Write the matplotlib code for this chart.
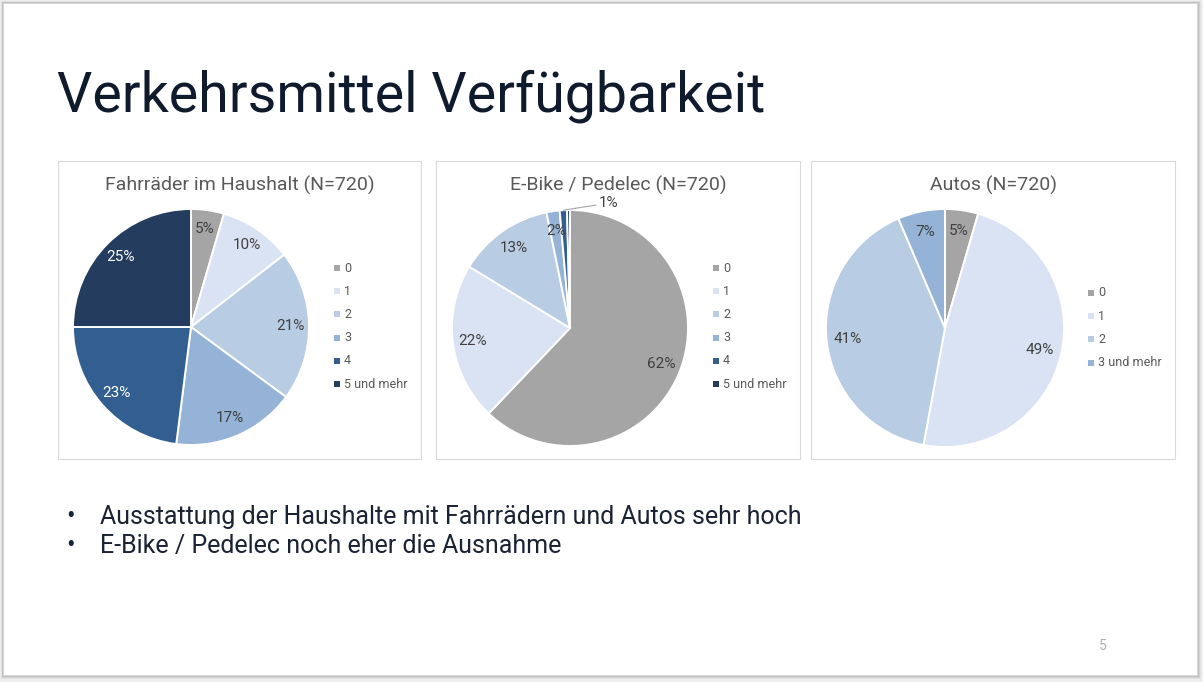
import matplotlib
matplotlib.use("Agg")
import matplotlib.pyplot as plt
from matplotlib.patches import Rectangle
import numpy as np

plt.rcParams['font.family'] = ['Roboto', 'DejaVu Sans']

# Daten (Anteile in %, aus dem Bild geschaetzt)
fahrrad_cats = ['0', '1', '2', '3', '4', '5 und mehr']
fahrrad_vals = [4.5, 10.0, 20.6, 16.9, 23.0, 25.0]
fahrrad_lbls = ['5%', '10%', '21%', '17%', '23%', '25%']

ebike_cats = ['0', '1', '2', '3', '4', '5 und mehr']
ebike_vals = [62.1, 21.6, 13.1, 1.8, 1.0, 0.4]
ebike_lbls = ['62%', '22%', '13%', '2%', '1%', '']

auto_cats = ['0', '1', '2', '3 und mehr']
auto_vals = [4.5, 48.4, 40.7, 6.4]
auto_lbls = ['5%', '49%', '41%', '7%']

farben = ['#a5a5a5', '#dae3f3', '#b8cce4', '#95b3d7', '#335e90', '#243c5e']
weiss_text = ['#335e90', '#243c5e']

W, H = 1203, 682
fig = plt.figure(figsize=(W / 100, H / 100), dpi=100, facecolor='#eeeeee')

# Hintergrund / Folie in Pixelkoordinaten
bg = fig.add_axes([0, 0, 1, 1])
bg.set_xlim(0, W)
bg.set_ylim(H, 0)
bg.axis('off')
for i, a in enumerate([0.05, 0.06, 0.08, 0.10]):
    d = 4 - i
    bg.add_patch(Rectangle((3 - d / 2, 3 - d / 2), 1194 + d * 1.5, 672 + d * 1.5,
                           facecolor='black', alpha=a, edgecolor='none'))
bg.add_patch(Rectangle((3, 3), 1194, 672, facecolor='white', edgecolor='#d8d8d8', lw=0.6))

bg.text(57, 96, 'Verkehrsmittel Verfügbarkeit', fontsize=40, color='#0f1b2d',
        va='center', ha='left')

bg.text(70, 517, '•', fontsize=18, color='#1a2233', va='center', ha='center')
bg.text(70, 546, '•', fontsize=18, color='#1a2233', va='center', ha='center')
bg.text(100, 517, 'Ausstattung der Haushalte mit Fahrrädern und Autos sehr hoch',
        fontsize=18, color='#1a2233', va='center', ha='left')
bg.text(100, 546, 'E-Bike / Pedelec noch eher die Ausnahme',
        fontsize=18, color='#1a2233', va='center', ha='left')
bg.text(1103, 646, '5', fontsize=10, color='#b0b0b0', va='center', ha='center')


def chart(box, titel, cats, vals, lbls, center, r, leg_x, leg_y0, dist):
    x0, y0, x1, y1 = box
    bg.add_patch(Rectangle((x0, y0), x1 - x0, y1 - y0, facecolor='white',
                           edgecolor='#d9d9d9', lw=0.8))
    bg.text((x0 + x1) / 2, 185, titel, fontsize=14, color='#595959',
            ha='center', va='center')
    cx, cy = center
    ax = fig.add_axes([(cx - r) / W, 1 - (cy + r) / H, 2 * r / W, 2 * r / H])
    wedges, _ = ax.pie(vals, colors=farben[:len(vals)], startangle=90,
                       counterclock=False, radius=1,
                       wedgeprops=dict(edgecolor='white', linewidth=1.4))
    ax.set_xlim(-1, 1)
    ax.set_ylim(-1, 1)
    ax.set_aspect('equal')
    ax.axis('off')
    for w, lb in zip(wedges, lbls):
        if not lb:
            continue
        mid = np.deg2rad((w.theta1 + w.theta2) / 2)
        fc = w.get_facecolor()
        col = 'white' if matplotlib.colors.to_hex(fc) in weiss_text else '#404040'
        if w.theta2 - w.theta1 < 5:
            # kleines Segment: Beschriftung aussen mit Fuehrungslinie
            px, py = np.cos(mid), np.sin(mid)
            ax.annotate(lb, xy=(px, py), xytext=(px + 0.30, py + 0.06),
                        fontsize=11, color='#404040', ha='left', va='center',
                        arrowprops=dict(arrowstyle='-', color='#a6a6a6', lw=0.8,
                                        shrinkA=0, shrinkB=0),
                        annotation_clip=False)
            continue
        ax.text(dist * np.cos(mid), dist * np.sin(mid), lb, fontsize=11,
                color=col, ha='center', va='center')
    for i, c in enumerate(cats):
        yy = leg_y0 + i * 23.2
        bg.add_patch(Rectangle((leg_x - 3, yy - 3), 6, 6, facecolor=farben[i],
                               edgecolor='none'))
        bg.text(leg_x + 7, yy, c, fontsize=9, color='#595959', ha='left', va='center')


chart((58, 161, 421, 459), 'Fahrräder im Haushalt (N=720)', fahrrad_cats,
      fahrrad_vals, fahrrad_lbls, (191, 327), 118, 337, 268, 0.84)
chart((436, 161, 800, 459), 'E-Bike / Pedelec (N=720)', ebike_cats,
      ebike_vals, ebike_lbls, (570, 328), 118, 716, 268, 0.83)
chart((811, 161, 1175, 459), 'Autos (N=720)', auto_cats,
      auto_vals, auto_lbls, (945, 328), 119, 1091, 293, 0.82)

fig.savefig('out.png', dpi=100, facecolor=fig.get_facecolor())
